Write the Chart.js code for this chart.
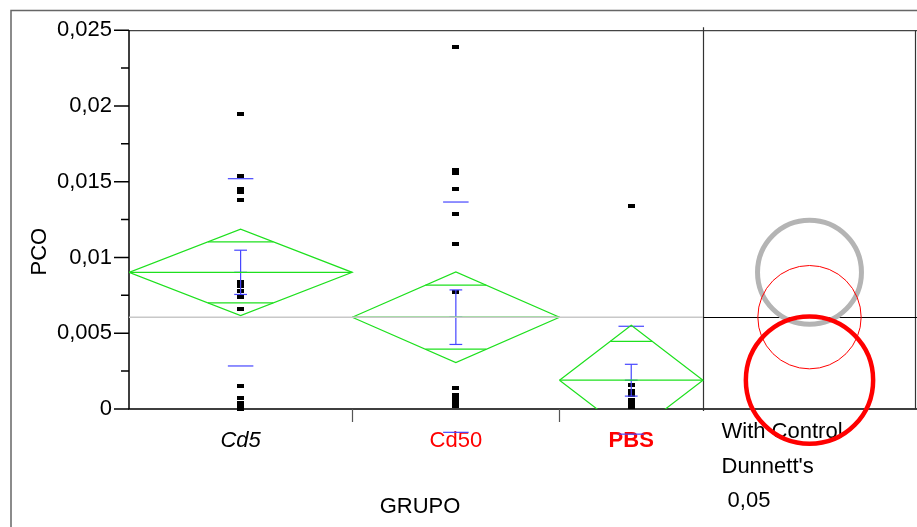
<!DOCTYPE html>
<html>
<head>
<meta charset="utf-8">
<script src="https://cdn.jsdelivr.net/npm/chart.js@4/dist/chart.umd.min.js"></script>
<style>
  html, body { margin: 0; padding: 0; background: #fff; }
</style>
</head>
<body>
<canvas id="chart" width="917" height="527"></canvas>
<script>
// groups and their sample sizes (x widths are proportional to n)
const groups = ['Cd5', 'Cd50', 'PBS']
const groupN = [14, 13, 9]

// raw observations
const cd5Values = [0.0195, 0.0154, 0.0145, 0.0143, 0.0138, 0.0084, 0.0081, 0.0078, 0.0074, 0.0066, 0.0015, 0.0007, 0.0004, 0.0002, 0]
const cd50Values = [0.0239, 0.0158, 0.0156, 0.0145, 0.0129, 0.0109, 0.0077, 0.0014, 0.0009, 0.0007, 0.0005, 0.0003, 0.0002]
const pbsValues = [0.0134, 0.0016, 0.0012, 0.0009, 0.0006, 0.0003, 0.0001]

// summaries
const groupMeans = [0.00902, 0.00606, 0.0019]
const meanCI = [0.00285, 0.00299, 0.00363]
const groupSD = [0.00618, 0.0076, 0.00356]
const groupSE = [0.00146, 0.0018, 0.00105]
const controlMean = 0.00606

// comparison circles (Dunnett's with control), drawn in the panel right of the groups
const circleRadius = [0.00343, 0.00341, 0.0042]
const circleColors = ['#b4b4b4', '#ff0000', '#ff0000']
const circleWidths = [5, 1, 4.5]
const panelUnits = 13.36

// axis
const yTickValues = [0, 0.005, 0.01, 0.015, 0.02, 0.025]
const yTickLabels = ['0', '0,005', '0,01', '0,015', '0,02', '0,025']
const yMinorStep = 0.0025
const dunnettLines = ['With Control', "Dunnett's", ' 0,05']

const FONT = "'Liberation Sans', Arial, sans-serif"
const GREEN = '#1ee01e'
const BLUE = 'rgb(70,70,255)'

const groupValues = [cd5Values, cd50Values, pbsValues]
const starts = []
const centres = []
let acc = 0
groupN.forEach((n) => {
  starts.push(acc)
  centres.push(acc + n / 2)
  acc += n
})
const total = acc
const circleX = total + panelUnits / 2
const sdHalf = 0.8   // half length of the std dev dashes, x units
const dashHalf = 0.4 // half length of the error bar caps, x units

// small black rectangle marker like JMP
const dot = document.createElement('canvas')
dot.width = 7
dot.height = 4
const g = dot.getContext('2d')
g.fillStyle = '#000'
g.fillRect(0, 0, 7, 4)

const datasets = []

const seg = (data, color, width, clip) => ({
  type: 'scatter',
  showLine: true,
  data,
  borderColor: color,
  borderWidth: width,
  pointRadius: 0,
  clip: clip,
})

// grand/control mean line
datasets.push(seg([{ x: 0, y: controlMean }, { x: total, y: controlMean }], '#c8c8c8', 1.5))

groups.forEach((name, i) => {
  const s = starts[i]
  const e = s + groupN[i]
  const c = centres[i]
  const m = groupMeans[i]
  const ci = meanCI[i]
  const h = ci / Math.SQRT2
  const w = (groupN[i] / 2) * (1 - 1 / Math.SQRT2)
  // means diamond
  datasets.push(seg([{ x: s, y: m }, { x: c, y: m + ci }, { x: e, y: m }, { x: c, y: m - ci }, { x: s, y: m }], GREEN, 1.2))
  datasets.push(seg([{ x: s, y: m }, { x: e, y: m }], GREEN, 1.2))
  // overlap marks
  datasets.push(seg([{ x: c - w, y: m + h }, { x: c + w, y: m + h }], GREEN, 1.2))
  datasets.push(seg([{ x: c - w, y: m - h }, { x: c + w, y: m - h }], GREEN, 1.2))

  // std dev dashes
  const sd = groupSD[i]
  datasets.push(seg([{ x: c - sdHalf, y: m + sd }, { x: c + sdHalf, y: m + sd }], BLUE, 1.2, false))
  datasets.push(seg([{ x: c - sdHalf, y: m - sd }, { x: c + sdHalf, y: m - sd }], BLUE, 1.2, false))
  // mean error bar
  const se = groupSE[i]
  datasets.push(seg([{ x: c, y: m - se }, { x: c, y: m + se }], BLUE, 1.2, false))
  ;[m - se, m, m + se].forEach((v) => {
    datasets.push(seg([{ x: c - dashHalf, y: v }, { x: c + dashHalf, y: v }], BLUE, 1.2, false))
  })
})

// observations
groups.forEach((name, i) => {
  datasets.push({
    type: 'scatter',
    data: groupValues[i].map((v) => ({ x: centres[i], y: v })),
    pointStyle: dot,
    clip: false,
  })
})

// comparison circles, radius in y units converted through the y scale
datasets.push({
  type: 'scatter',
  data: groupMeans.map((m) => ({ x: circleX, y: m })),
  pointStyle: 'circle',
  pointRadius: (ctx) => {
    const y = ctx.chart.scales.y
    return y.getPixelForValue(0) - y.getPixelForValue(circleRadius[ctx.dataIndex])
  },
  pointBorderColor: circleColors,
  pointBorderWidth: circleWidths,
  pointBackgroundColor: 'rgba(0,0,0,0)',
  clip: false,
})

const tickFonts = [
  { family: FONT, size: 22, style: 'italic' },
  { family: FONT, size: 22 },
  { family: FONT, size: 22, weight: 'bold' },
]
const tickColors = ['#000', '#ff0000', '#ff0000']

const framePlugin = {
  id: 'jmpFrame',
  beforeDatasetsDraw(chart) {
    const { ctx, chartArea: a, scales } = chart
    const W = chart.width
    const divider = Math.round(scales.x.getPixelForValue(total)) + 0.5
    ctx.save()
    // outer frame
    ctx.strokeStyle = '#666'
    ctx.lineWidth = 1.5
    ctx.strokeRect(11, 10.5, W + 20, 600)
    // plot box
    ctx.strokeStyle = '#444'
    ctx.lineWidth = 1.2
    ctx.beginPath()
    ctx.moveTo(a.left, a.top + 0.5)
    ctx.lineTo(W, a.top + 0.5)
    ctx.stroke()
    ctx.strokeStyle = '#000'
    ctx.lineWidth = 1.5
    ctx.beginPath()
    ctx.moveTo(a.left, a.top)
    ctx.lineTo(a.left, a.bottom)
    ctx.lineTo(W, a.bottom)
    ctx.stroke()
    ctx.strokeStyle = '#333'
    ctx.lineWidth = 1.2
    ctx.beginPath()
    ctx.moveTo(divider, a.top - 3)
    ctx.lineTo(divider, a.bottom + 2)
    ctx.moveTo(a.right - 0.5, a.top)
    ctx.lineTo(a.right - 0.5, a.bottom)
    ctx.stroke()
    // control line in circle panel
    const yc = Math.round(scales.y.getPixelForValue(controlMean)) + 0.5
    ctx.strokeStyle = '#000'
    ctx.lineWidth = 1
    ctx.beginPath()
    ctx.moveTo(divider, yc)
    ctx.lineTo(W, yc)
    ctx.stroke()
    // y ticks (major and minor)
    ctx.lineWidth = 1.5
    ctx.beginPath()
    for (let k = 0; k * yMinorStep <= 0.025 + 1e-9; k++) {
      const py = scales.y.getPixelForValue(k * yMinorStep)
      const len = k % 2 === 0 ? 15 : 8
      ctx.moveTo(a.left - len, py)
      ctx.lineTo(a.left, py)
    }
    ctx.stroke()
    // x group boundary ticks
    ctx.strokeStyle = '#555'
    ctx.lineWidth = 1.2
    ctx.beginPath()
    starts.slice(1).forEach((s) => {
      const px = Math.round(scales.x.getPixelForValue(s)) + 0.5
      ctx.moveTo(px, a.bottom)
      ctx.lineTo(px, a.bottom + 13)
    })
    ctx.stroke()
    // texts
    ctx.fillStyle = '#000'
    ctx.font = '22px ' + FONT
    ctx.textAlign = 'left'
    ctx.textBaseline = 'alphabetic'
    dunnettLines.forEach((t, i) => ctx.fillText(t, divider + 18, 438 + i * 34.5))
    ctx.save()
    ctx.translate(46, (a.top + a.bottom) / 2 + 32)
    ctx.rotate(-Math.PI / 2)
    ctx.textAlign = 'center'
    ctx.fillText('PCO', 0, 0)
    ctx.restore()
    ctx.restore()
  },
}

const titlePlugin = {
  id: 'groupTitle',
  afterDraw(chart) {
    // x axis title centred under the group region
    const { ctx, scales } = chart
    const cx = (scales.x.getPixelForValue(0) + scales.x.getPixelForValue(total)) / 2 + 4
    ctx.save()
    ctx.fillStyle = '#000'
    ctx.font = '22px ' + FONT
    ctx.textAlign = 'center'
    ctx.textBaseline = 'middle'
    ctx.fillText('GRUPO', cx, 507)
    ctx.restore()
  },
}

new Chart(document.getElementById('chart'), {
  type: 'scatter',
  data: { datasets },
  plugins: [framePlugin, titlePlugin],
  options: {
    responsive: false,
    animation: false,
    events: [],
    layout: { autoPadding: false, padding: { top: 28, right: 1, left: 0, bottom: 0 } },
    plugins: {
      legend: { display: false },
      tooltip: { enabled: false },
    },
    scales: {
      x: {
        type: 'linear',
        min: 0,
        max: total + panelUnits,
        afterBuildTicks: (scale) => {
          scale.ticks = centres.map((v) => ({ value: v }))
        },
        afterFit: (scale) => {
          scale.height = 118
        },
        grid: { display: false, drawTicks: false },
        border: { display: false },
        ticks: {
          autoSkip: false,
          maxRotation: 0,
          padding: 19,
          callback: (v, i) => groups[i],
          color: (ctx) => tickColors[ctx.index],
          font: (ctx) => tickFonts[ctx.index],
        },
      },
      y: {
        min: 0,
        max: 0.025,
        afterFit: (scale) => {
          scale.width = 129
        },
        grid: { display: false, drawTicks: false },
        border: { display: false },
        ticks: {
          stepSize: yMinorStep,
          padding: 17,
          color: '#000',
          font: { family: FONT, size: 22 },
          callback: (v) => {
            const k = Math.round(v / yMinorStep)
            if (k % 2 !== 0) return ''
            const idx = yTickValues.findIndex((t) => Math.abs(t - v) < 1e-7)
            return idx >= 0 ? yTickLabels[idx] : ''
          },
        },
      },
    },
  },
})
</script>
</body>
</html>
